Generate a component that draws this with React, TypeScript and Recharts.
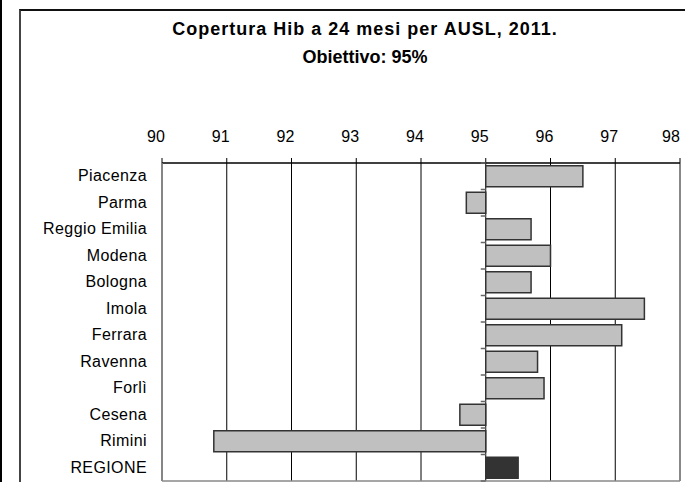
import React from "react";
import { BarChart, Bar, XAxis, YAxis, CartesianGrid, Cell, ReferenceLine } from "recharts";

// Copertura Hib a 24 mesi, per AUSL (valori %)
const aziende = ["Piacenza", "Parma", "Reggio Emilia", "Modena", "Bologna", "Imola", "Ferrara", "Ravenna", "Forlì", "Cesena", "Rimini", "REGIONE"];
const copertura = [96.5, 94.7, 95.7, 96.0, 95.7, 97.45, 97.1, 95.8, 95.9, 94.6, 90.8, 95.5];
const obiettivo = 95;
const xTicks = [90, 91, 92, 93, 94, 95, 96, 97, 98];

const W = 685;
const H = 482;
const MARGIN = { top: 130, right: 5, bottom: 0, left: 0 };
const X_HEIGHT = 33;
const X_BOTTOM_HEIGHT = 1;
const Y_WIDTH = 162;
const FONT = "'Liberation Sans', Arial, sans-serif";

const X_MIN = xTicks[0];
const X_MAX = xTicks[xTicks.length - 1];

// bars go from the target (95) to the value, left or right
const data = aziende.map((name, i) => ({
  name,
  range: [Math.min(obiettivo, copertura[i]), Math.max(obiettivo, copertura[i])],
}));

const plotLeft = MARGIN.left + Y_WIDTH;
const plotW = W - MARGIN.left - MARGIN.right - Y_WIDTH;
const plotH = H - MARGIN.top - MARGIN.bottom - X_HEIGHT - X_BOTTOM_HEIGHT;
const band = plotH / aziende.length;
const xTarget = plotLeft + ((obiettivo - X_MIN) / (X_MAX - X_MIN)) * plotW;

const XTick = ({ x, y, payload }: any) => (
  <text x={x - 6} y={y} textAnchor="middle" fontSize={16} fontFamily={FONT} fill="#000">
    {payload.value}
  </text>
);

const YTick = ({ x, y, payload, index }: any) => (
  <g>
    <text x={x} y={y} dy={5} textAnchor="end" fontSize={16} fontFamily={FONT} fill="#000" letterSpacing={0.4}>
      {payload.value}
    </text>
    <line x1={xTarget - 5} x2={xTarget} y1={y - band / 2} y2={y - band / 2} stroke="#666" strokeWidth={1.5} />
    {index === aziende.length - 1 && (
      <line x1={xTarget - 5} x2={xTarget} y1={y + band / 2} y2={y + band / 2} stroke="#666" strokeWidth={1.5} />
    )}
  </g>
);

export default function App() {
  return (
    <div style={{ position: "absolute", left: 0, top: 0, width: W, height: H, overflow: "hidden", background: "#fff" }}>
      <div style={{ position: "absolute", left: 0, top: 0, width: 2, height: H, background: "#000" }} />
      <div
        style={{
          position: "absolute",
          left: 19,
          top: 9,
          width: 800,
          height: 600,
          borderTop: "2px solid #111",
          borderLeft: "2px solid #444",
        }}
      />
      <div
        style={{
          position: "absolute",
          left: 20,
          width: 690,
          top: 15,
          textAlign: "center",
          fontFamily: FONT,
          fontWeight: "bold",
          fontSize: 18,
          lineHeight: "28px",
        }}
      >
        <div style={{ letterSpacing: 1 }}>Copertura Hib a 24 mesi per AUSL, 2011.</div>
        <div>Obiettivo: 95%</div>
      </div>
      <div style={{ position: "absolute", left: 0, top: 0 }}>
        <BarChart width={W} height={H} data={data} layout="vertical" margin={MARGIN} barCategoryGap="10%">
          <CartesianGrid horizontal={false} stroke="#000" strokeWidth={1} />
          <XAxis
            type="number"
            orientation="top"
            domain={[X_MIN, X_MAX]}
            ticks={xTicks}
            height={X_HEIGHT}
            tickSize={5}
            tickMargin={16}
            tick={<XTick />}
            axisLine={{ stroke: "#000", strokeWidth: 1.5 }}
            tickLine={{ stroke: "#000" }}
            allowDataOverflow
          />
          <XAxis
            xAxisId="bottom"
            type="number"
            orientation="bottom"
            domain={[X_MIN, X_MAX]}
            height={X_BOTTOM_HEIGHT}
            tick={false}
            tickLine={false}
            axisLine={{ stroke: "#888", strokeWidth: 1.5 }}
          />
          <YAxis
            type="category"
            dataKey="name"
            width={Y_WIDTH}
            tickSize={0}
            tickMargin={15}
            tick={<YTick />}
            interval={0}
            axisLine={{ stroke: "#888", strokeWidth: 1.5 }}
            tickLine={false}
          />
          <ReferenceLine x={X_MAX} stroke="#888" strokeWidth={2} />
          <Bar dataKey="range" stroke="#333" strokeWidth={1.5} isAnimationActive={false}>
            {data.map((d, i) => (
              <Cell key={i} fill={d.name === "REGIONE" ? "#333333" : "#C0C0C0"} />
            ))}
          </Bar>
        </BarChart>
      </div>
    </div>
  );
}
